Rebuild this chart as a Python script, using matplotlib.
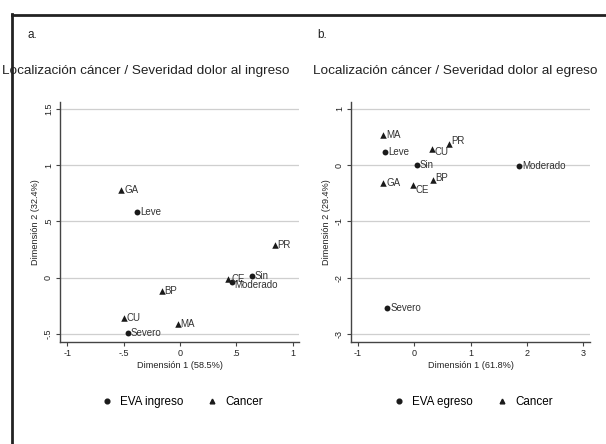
import matplotlib.pyplot as plt
from matplotlib.lines import Line2D

plt.rcParams['font.family'] = ['Liberation Sans', 'DejaVu Sans']

# panel a: ingreso
eva_a = ['Leve', 'Sin', 'Moderado', 'Severo']
eva_a_x = [-0.38, 0.64, 0.46, -0.46]
eva_a_y = [0.58, 0.02, -0.04, -0.49]
can_a = ['GA', 'PR', 'CE', 'BP', 'CU', 'MA']
can_a_x = [-0.52, 0.84, 0.43, -0.16, -0.50, -0.02]
can_a_y = [0.78, 0.29, -0.01, -0.12, -0.36, -0.41]

# panel b: egreso
eva_b = ['Leve', 'Sin', 'Moderado', 'Severo']
eva_b_x = [-0.52, 0.05, 1.86, -0.48]
eva_b_y = [0.24, 0.01, -0.01, -2.54]
can_b = ['MA', 'CU', 'PR', 'GA', 'CE', 'BP']
can_b_x = [-0.55, 0.31, 0.61, -0.55, -0.02, 0.33]
can_b_y = [0.53, 0.28, 0.37, -0.31, -0.36, -0.27]

# small label nudges (points) to mimic the original placement
nudge_a = {'Moderado': (2, -2), 'CE': (2, 0)}
nudge_b = {'CU': (2, -2), 'PR': (2, 2), 'CE': (2, -3), 'BP': (2, 2)}

W, H = 606, 444
fig = plt.figure(figsize=(W / 100, H / 100), dpi=100)

# outer frame (left + top)
fig.add_artist(Line2D([11.5 / W, 11.5 / W], [0, 1 - 14.5 / H], color='#222222', lw=2.0))
fig.add_artist(Line2D([11.5 / W, 1], [1 - 15 / H, 1 - 15 / H], color='#222222', lw=2.0))

dark = '#1a1a1a'
lab_col = '#333333'


def panel(left, xlim, ylim, xt, xtl, yt, ytl, xlabel, ylabel,
          ex, ey, en, cx, cy, cn, nudge, legname):
    ax = fig.add_axes([left / W, 1 - 342 / H, 239 / W, 240 / H])
    ax.set_xlim(*xlim)
    ax.set_ylim(*ylim)
    for s in ['top', 'right']:
        ax.spines[s].set_visible(False)
    for s in ['left', 'bottom']:
        ax.spines[s].set_color('#444444')
        ax.spines[s].set_linewidth(1.0)
    ax.set_xticks(xt)
    ax.set_xticklabels(xtl)
    ax.set_yticks(yt)
    ax.set_yticklabels(ytl, rotation=90, va='center')
    ax.tick_params(length=3, width=0.8, color='#444444', labelsize=6.5, pad=2,
                   labelcolor='#222222')
    for v in yt:
        ax.axhline(v, color='#cfcfcf', lw=0.9, zorder=0)
    ax.set_xlabel(xlabel, fontsize=6.6, color='#222222', labelpad=2)
    ax.set_ylabel(ylabel, fontsize=6.6, color='#222222', labelpad=3)

    ax.scatter(ex, ey, marker='o', s=18, color=dark, zorder=3, linewidths=0)
    ax.scatter(cx, cy, marker='^', s=22, color=dark, zorder=3, linewidths=0)
    for x, y, n in list(zip(ex, ey, en)) + list(zip(cx, cy, cn)):
        off = nudge.get(n, (2, 0))
        ax.annotate(n, (x, y), xytext=off, textcoords='offset points',
                    fontsize=7, color=lab_col, va='center', ha='left')

    handles = [Line2D([], [], marker='o', ls='', color=dark, markersize=3.4),
               Line2D([], [], marker='^', ls='', color=dark, markersize=3.4)]
    fig.legend(handles, [legname, 'Cancer'], loc='center',
               bbox_to_anchor=((left + 122) / W, 1 - 402 / H), ncol=2,
               frameon=False, fontsize=8.4, handletextpad=0.6,
               columnspacing=2.0, handlelength=1.0)


panel(60, (-1.065, 1.057), (-0.57, 1.56),
      [-1, -0.5, 0, 0.5, 1], ['-1', '-.5', '0', '.5', '1'],
      [-0.5, 0, 0.5, 1, 1.5], ['-.5', '0', '.5', '1', '1.5'],
      'Dimensión 1 (58.5%)', 'Dimensión 2 (32.4%)',
      eva_a_x, eva_a_y, eva_a, can_a_x, can_a_y, can_a, nudge_a, 'EVA ingreso')

panel(351, (-1.125, 3.12), (-3.14, 1.12),
      [-1, 0, 1, 2, 3], ['-1', '0', '1', '2', '3'],
      [-3, -2, -1, 0, 1], ['-3', '-2', '-1', '0', '1'],
      'Dimensión 1 (61.8%)', 'Dimensión 2 (29.4%)',
      eva_b_x, eva_b_y, eva_b, can_b_x, can_b_y, can_b, nudge_b, 'EVA egreso')

fig.text(27 / W, 1 - 35 / H, 'a.', fontsize=8.5, va='center', color='#222222')
fig.text(317 / W, 1 - 35 / H, 'b.', fontsize=8.5, va='center', color='#222222')
fig.text(2 / W, 1 - 71 / H, 'Localización cáncer / Severidad dolor al ingreso',
         fontsize=9.7, va='center', color='#222222')
fig.text(313 / W, 1 - 71 / H, 'Localización cáncer / Severidad dolor al egreso',
         fontsize=9.7, va='center', color='#222222')

fig.savefig('out.png', dpi=100)
